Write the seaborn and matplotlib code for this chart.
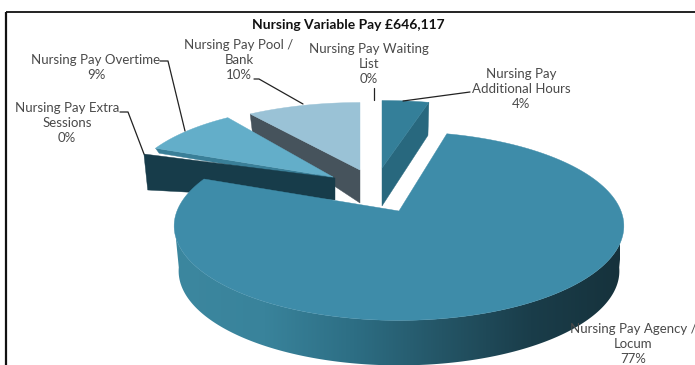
import numpy as np
import matplotlib
matplotlib.use("Agg")
import matplotlib.pyplot as plt
from matplotlib.patches import Polygon
import seaborn as sns

# Variable pay split, clockwise from twelve o'clock
categories = ["Nursing Pay\nAdditional Hours", "Nursing Pay Agency /\nLocum",
              "Nursing Pay Extra\nSessions", "Nursing Pay Overtime",
              "Nursing Pay Pool /\nBank", "Nursing Pay Waiting\nList"]
shares = [4, 77, 0, 9, 10, 0]
title = "Nursing Variable Pay £646,117"

# Top-face and wall colours per slice
top_colours = ["#347f99", "#3e8ca9", "#173c4a", "#63aec9", "#9ac2d6", "#ffffff"]
wall_colours = ["#28687e", None, "#173c4a", "#3a7f98", "#46535c", "#ffffff"]

# Exploded slice geometry: apex, horizontal/vertical scale, wall depth at apex and rim
RX, RY, TILT = 222.0, 92.0, 0.159
geometry = [
    dict(apex=(382, 168), sx=0.98, sy=0.85, d_apex=38, d_rim=33),
    dict(apex=(399, 211), sx=1.00, sy=1.00, d_apex=45, d_rim=45),
    dict(apex=(335, 178), sx=0.98, sy=0.75, d_apex=22, d_rim=36),
    dict(apex=(333, 177), sx=0.91, sy=0.90, d_apex=5, d_rim=5),
    dict(apex=(360, 170), sx=0.95, sy=0.85, d_apex=33, d_rim=18),
    dict(apex=(374, 170), sx=0.95, sy=0.85, d_apex=0, d_rim=0),
]
# Label anchors (centre x, first-line y) and leader lines
label_pos = [(521, 74), (633, 329), (67, 108), (96, 60), (239, 45), (369, 49)]
leaders = [[(470, 92), (403, 101)], None, [(120, 112), (128, 112), (144, 154)],
           [(160, 61), (168, 61), (185, 131)], [(254, 79), (259, 79), (303, 104)],
           [(374, 88), (374, 100)]]

sns.set_theme(style="white")
plt.rcParams["font.family"] = ["Lato", "DejaVu Sans"]

fig = plt.figure(figsize=(6.95, 3.65), dpi=100)
ax = fig.add_axes([0, 0, 1, 1])
ax.set_xlim(0, 695)
ax.set_ylim(365, 0)
ax.axis("off")


def rim(geo, deg):
    """Project points on the pie's rim (degrees clockwise from north) to the canvas."""
    t = np.radians(np.atleast_1d(deg))
    u, v = np.sin(t), np.cos(t)
    w = 1 + TILT * v
    return (geo["apex"][0] + geo["sx"] * RX * u / w,
            geo["apex"][1] - geo["sy"] * RY * v / w)


def wall_quad(geo, deg):
    """Radial wall running from the rim down to the apex along one slice edge."""
    ax0, ay0 = geo["apex"]
    x, y = rim(geo, deg)
    x, y = x[0], y[0]
    return [(x, y), (ax0, ay0), (ax0, ay0 + geo["d_apex"]),
            (ax0 + (x - ax0) * 0.98, y + geo["d_rim"])]


edges = np.concatenate([[0], np.cumsum(shares)]) * 3.6
draw_order = [4, 3, 2, 0, 1]

for i in draw_order:
    geo, start, end = geometry[i], edges[i], edges[i + 1]
    if i == 1:
        # Curved outer wall of the large slice, shaded from left to right
        arc = np.linspace(97, 263, 200)
        x, y = rim(geo, arc)
        bx = geo["apex"][0] + (x - geo["apex"][0]) * 0.98
        outline = np.r_[np.c_[x, y], np.c_[bx, y + geo["d_rim"]][::-1]]
        clip = Polygon(outline, closed=True, transform=ax.transData, fc="none", ec="none")
        ax.add_patch(clip)
        shade = sns.blend_palette(["#16323c", "#1a3d4a", "#245566", "#2d6e84", "#39839b", "#3c879f"],
                                  as_cmap=True)
        img = ax.imshow(np.linspace(0, 1, 256)[None, :], cmap=shade, aspect="auto",
                        extent=(620, 176, 370, 210), zorder=2)
        img.set_clip_path(clip)
        ax.set_xlim(0, 695)
        ax.set_ylim(365, 0)
    elif end - start >= 0:
        # Only the leading radial edge of each small slice shows its wall
        wall_deg = {0: end, 2: start, 3: start, 4: start, 5: start}[i]
        ax.add_patch(Polygon(wall_quad(geo, wall_deg), closed=True, fc=wall_colours[i],
                             ec=wall_colours[i], lw=0.3, zorder=2))
    if end > start:
        x, y = rim(geo, np.linspace(start, end, 160))
        top = np.r_[[geo["apex"]], np.c_[x, y]]
        ax.add_patch(Polygon(top, closed=True, fc=top_colours[i], ec=top_colours[i],
                             lw=0.3, zorder=3))

# Chart frame: only the top and left rules are in view
ax.plot([5.5, 695], [12, 12], color="#111111", lw=1.3, zorder=5, solid_capstyle="butt")
ax.plot([5.5, 5.5], [12, 365], color="#111111", lw=1.6, zorder=5, solid_capstyle="butt")

ax.text(348.5, 25, title, ha="center", va="center", fontsize=10, fontweight="bold",
        color="#111111", zorder=6)

for name, share, (lx, ly), leader in zip(categories, shares, label_pos, leaders):
    for k, line in enumerate(name.split("\n") + [f"{share}%"]):
        ax.text(lx, ly + 15 * k, line, ha="center", va="center", fontsize=9.5,
                color="#4a4a4a", zorder=6)
    if leader:
        xs, ys = zip(*leader)
        ax.plot(xs, ys, color="#222222", lw=0.9, zorder=6)

fig.savefig("out.png", dpi=100)
